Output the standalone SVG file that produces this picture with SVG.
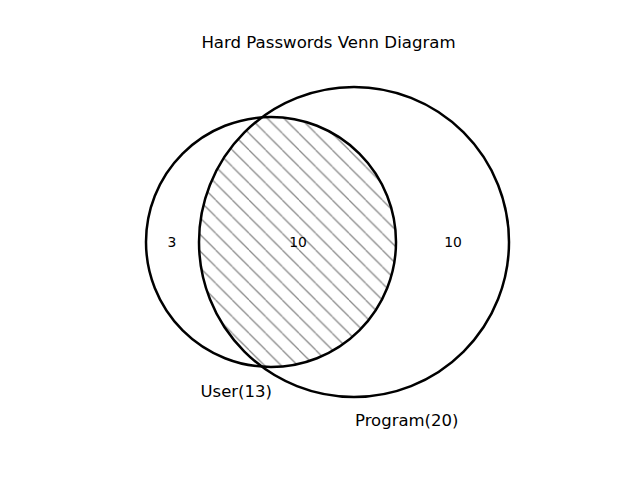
<svg xmlns="http://www.w3.org/2000/svg" width="640" height="480" viewBox="0 0 640 480">
  <style>
    .title { font-family: "DejaVu Sans", sans-serif; font-size: 16.6px; fill: #000; }
    .num { font-family: "DejaVu Sans", sans-serif; font-size: 13.9px; fill: #000; text-anchor: middle; }
    .set { font-family: "DejaVu Sans", sans-serif; font-size: 16.5px; fill: #000; }
    .outline { fill: none; stroke: #000; stroke-width: 2.5; }
  </style>
  <defs>
    <pattern id="hatch" patternUnits="userSpaceOnUse" x="-1" y="0" width="16.667" height="16.667">
      <line x1="0" y1="0" x2="16.667" y2="16.667" stroke="#8c8c8c" stroke-width="1.3"/>
      <line x1="-16.667" y1="0" x2="0" y2="16.667" stroke="#8c8c8c" stroke-width="1.3"/>
      <line x1="16.667" y1="0" x2="33.333" y2="16.667" stroke="#8c8c8c" stroke-width="1.3"/>
    </pattern>
    <clipPath id="programClip">
      <circle cx="354" cy="242" r="155"/>
    </clipPath>
  </defs>
  <rect width="640" height="480" fill="#fff"/>
  <text class="title" x="328.5" y="48" text-anchor="middle">Hard Passwords Venn Diagram</text>
  <g id="intersection">
    <circle cx="271" cy="242" r="125" fill="url(#hatch)" clip-path="url(#programClip)"/>
  </g>
  <g id="connectors"></g>
  <g id="user">
    <circle class="outline" cx="271" cy="242" r="125"/>
    <text class="set" x="200.5" y="396.5">User(13)</text>
  </g>
  <g id="program">
    <circle class="outline" cx="354" cy="242" r="155"/>
    <text class="set" x="355" y="426">Program(20)</text>
  </g>
  <g id="labels">
    <text class="num" x="172" y="246.5">3</text>
    <text class="num" x="298" y="246.5">10</text>
    <text class="num" x="453" y="246.5">10</text>
  </g>
</svg>
